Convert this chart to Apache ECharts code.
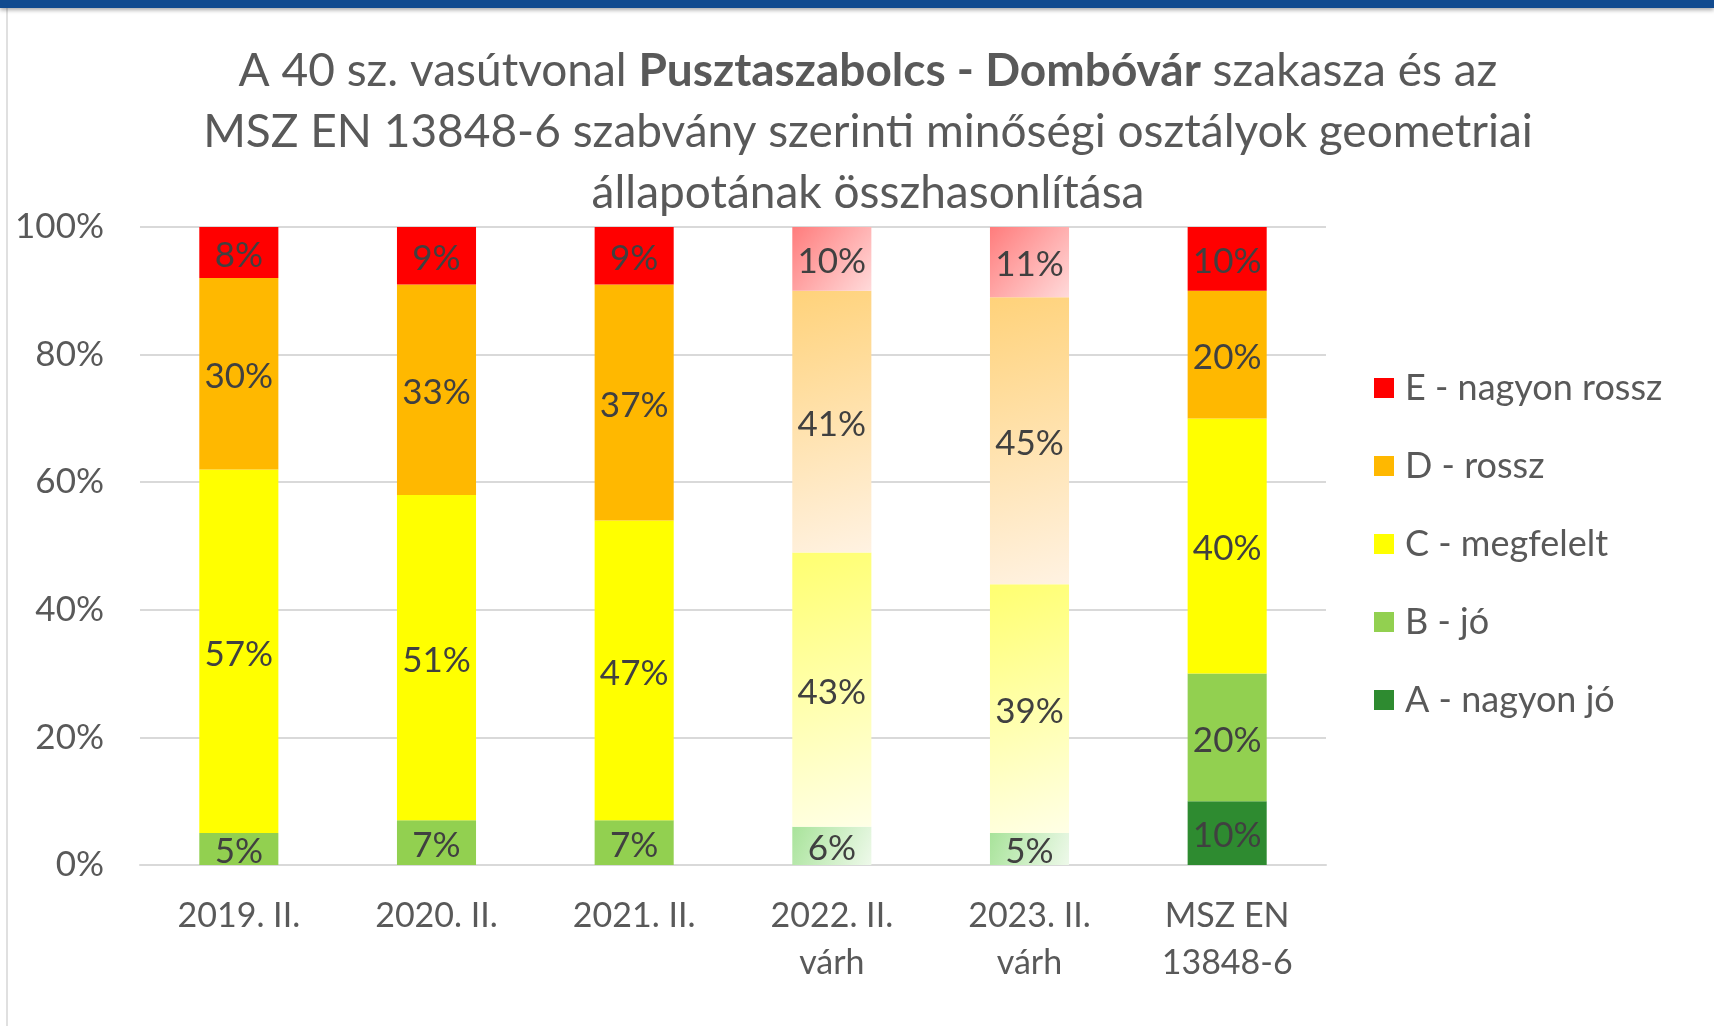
<!DOCTYPE html>
<html>
<head>
<meta charset="utf-8">
<script src="https://cdn.jsdelivr.net/npm/echarts@6/dist/echarts.min.js"></script>
<style>
html,body{margin:0;padding:0;background:#fff;}
#topbar{position:absolute;left:0;top:0;width:1714px;height:8px;background:#114b8f;box-shadow:0 2px 4px rgba(0,0,0,0.35);z-index:2;}
#leftline{position:absolute;left:6px;top:8px;width:2px;height:1018px;background:#e0e0e0;}
#chart{position:absolute;left:0;top:0;width:1714px;height:1026px;}
</style>
</head>
<body>
<div id="chart"></div>
<div id="leftline"></div>
<div id="topbar"></div>
<script>
const categories = ['2019. II.', '2020. II.', '2021. II.', '2022. II.\nvárh', '2023. II.\nvárh', 'MSZ EN\n13848-6'];
const seriesNames = ['A - nagyon jó', 'B - jó', 'C - megfelelt', 'D - rossz', 'E - nagyon rossz'];
const valuesA = [0, 0, 0, 0, 0, 10];
const valuesB = [5, 7, 7, 6, 5, 20];
const valuesC = [57, 51, 47, 43, 39, 40];
const valuesD = [30, 33, 37, 41, 45, 20];
const valuesE = [8, 9, 9, 10, 11, 10];
const yTicks = [0, 20, 40, 60, 80, 100];
const forecastIdx = [3, 4];

const solidColors = ['#2e8b30', '#92d050', '#ffff00', '#ffb800', '#ff0000'];
const paleStops = [
  ['#8fd08f', '#e2f4e2'],
  ['#a8e39a', '#eef9ea'],
  ['#ffff70', '#ffffe6'],
  ['#ffd27a', '#fff2e2'],
  ['#ff7c7c', '#ffdada']
];
const allValues = [valuesA, valuesB, valuesC, valuesD, valuesE];
const FONT = 'Lato, "Open Sans", sans-serif';

function buildData(si) {
  return allValues[si].map((v, i) => {
    if (forecastIdx.includes(i)) {
      return {
        value: v,
        itemStyle: {
          color: {
            type: 'linear', x: 0, y: 0, x2: 1, y2: 1,
            colorStops: [{offset: 0, color: paleStops[si][0]}, {offset: 1, color: paleStops[si][1]}]
          }
        }
      };
    }
    return v;
  });
}

const series = seriesNames.map((name, si) => ({
  name: name,
  type: 'bar',
  stack: 'total',
  barWidth: '40%',
  data: buildData(si),
  itemStyle: {color: solidColors[si]},
  label: {
    show: true,
    position: 'inside',
    offset: [0, 3],
    color: '#404040',
    fontFamily: FONT,
    fontSize: 35,
    formatter: p => (p.value ? p.value + '%' : '')
  },
  emphasis: {disabled: true}
}));

const chart = echarts.init(document.getElementById('chart'), null, {renderer: 'canvas'});
chart.setOption({
  animation: false,
  backgroundColor: '#ffffff',
  title: {
    left: 863,
    top: 36,
    textAlign: 'center',
    text: '{n|A 40 sz. vasútvonal }{b|Pusztaszabolcs - Dombóvár}{n| szakasza és az}\n{n|MSZ EN 13848-6 szabvány szerinti minőségi osztályok geometriai}\n{n|állapotának összhasonlítása}',
    textStyle: {
      fontWeight: 'normal',
      rich: {
        n: {fontFamily: FONT, fontSize: 46, color: '#595959', fontWeight: 'normal', lineHeight: 61},
        b: {fontFamily: FONT, fontSize: 46, color: '#595959', fontWeight: 'bold', lineHeight: 61}
      }
    }
  },
  legend: {
    orient: 'vertical',
    left: 1369,
    top: 363,
    data: ['E - nagyon rossz', 'D - rossz', 'C - megfelelt', 'B - jó', 'A - nagyon jó'],
    icon: 'rect',
    itemWidth: 20,
    itemHeight: 20,
    itemGap: 38,
    textStyle: {fontFamily: FONT, fontSize: 36, color: '#595959', lineHeight: 40, padding: [0, 0, 0, 6]}
  },
  grid: {left: 140, right: 388, top: 227, bottom: 161, containLabel: false},
  xAxis: {
    type: 'category',
    data: categories,
    axisLine: {lineStyle: {color: '#d9d9d9', width: 2}},
    axisTick: {show: false},
    axisLabel: {fontFamily: FONT, fontSize: 34, color: '#595959', lineHeight: 47, margin: 28}
  },
  yAxis: {
    type: 'value',
    min: yTicks[0],
    max: yTicks[yTicks.length - 1],
    interval: 20,
    axisLine: {show: false},
    axisTick: {show: false},
    splitLine: {lineStyle: {color: '#d9d9d9', width: 2}},
    axisLabel: {fontFamily: FONT, fontSize: 35, color: '#595959', margin: 36, formatter: '{value}%'}
  },
  series: series
});
</script>
</body>
</html>
